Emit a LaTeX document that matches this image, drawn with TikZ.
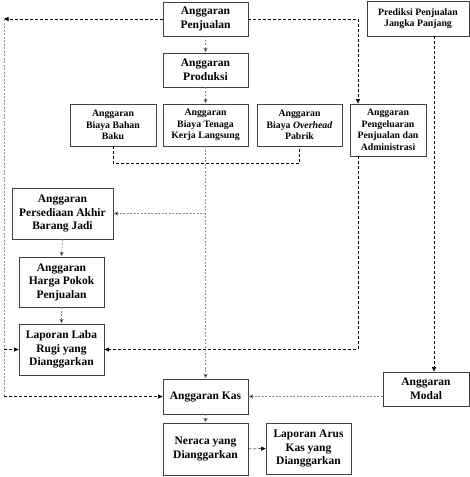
\documentclass[tikz,border=0pt]{standalone}
\usepackage{fontspec}
\setmainfont{Liberation Serif}
\usetikzlibrary{arrows.meta,calc}

\newcommand{\teksbesar}{\fontsize{11.5}{13.5}\selectfont\bfseries}
\newcommand{\tekskecil}{\fontsize{9.8}{11.5}\selectfont\bfseries}

\begin{document}
\begin{tikzpicture}[x=1pt,y=-1pt,
    kotak/.style={draw=black!75,line width=0.8pt,inner sep=0pt,align=center,font=\teksbesar},
    kotakkecil/.style={kotak,font=\tekskecil},
    garis/.style={line width=0.5pt,dash pattern=on 3pt off 2pt},
    garisabu/.style={line width=0.7pt,draw=black!45,dash pattern=on 2pt off 1.5pt},
    panah/.style={-{Triangle[length=4.5pt,width=4pt,fill=black]}}]

    \useasboundingbox (0,0) rectangle (470,477);

    % kotak-kotak anggaran
    \node[kotak,minimum width=85,minimum height=34] (pjl) at (205.5,19) {Anggaran\\Penjualan};

    \node[kotak,minimum width=85,minimum height=34] (prd) at (205.5,70) {Anggaran\\Produksi};

    \node[kotakkecil,minimum width=86,minimum height=42] (bhn) at (113,125) {Anggaran\\Biaya Bahan\\Baku};

    \node[kotakkecil,minimum width=85,minimum height=42] (tng) at (205.5,125) {Anggaran\\Biaya Tenaga\\Kerja Langsung};

    \node[kotakkecil,minimum width=85,minimum height=42] (ovh) at (299.5,125) {Anggaran\\Biaya \textit{Overhead}\\Pabrik};

    \node[kotakkecil,minimum width=76,minimum height=52] (pgl) at (388,130) {Anggaran\\Pengeluaran\\Penjualan dan\\Administrasi};

    \node[kotakkecil,minimum width=102,minimum height=35] (prdk) at (418,18.5) {Prediksi Penjualan\\Jangka Panjang};

    \node[kotak,minimum width=101,minimum height=51] (psd) at (62.5,213.5) {Anggaran\\Persediaan Akhir\\Barang Jadi};

    \node[kotak,minimum width=85,minimum height=50] (hpp) at (61.5,282) {Anggaran\\Harga Pokok\\Penjualan};

    \node[kotak,minimum width=85,minimum height=51] (lr) at (61.5,349.5) {Laporan Laba\\Rugi yang\\Dianggarkan};

    \node[kotak,minimum width=85,minimum height=35] (kas) at (205.5,396.5) {Anggaran Kas};

    \node[kotak,minimum width=86,minimum height=34] (mdl) at (426,389) {Anggaran\\Modal};

    \node[kotak,minimum width=85,minimum height=52] (nrc) at (205.5,449) {Neraca yang\\Dianggarkan};

    \node[kotak,minimum width=85,minimum height=51] (aks) at (308.5,448.5) {Laporan Arus\\Kas yang\\Dianggarkan};

    % titik bantu
    \coordinate (kiri) at (4,19);
    \coordinate (kanan) at (358,19);
    \coordinate (modalx) at (434,0);

    % alur
    \draw[garis,panah] (pjl.west) -- (kiri);
    \draw[garisabu] (kiri) -- (kiri |- kas.west);
    \draw[garis,panah] (kiri |- kas.west) -- (kas.west);
    \draw[garis,panah] (kiri |- lr.west) -- (lr.west);

    \draw[garis,panah] (pjl.east) -- (kanan) -- (kanan |- pgl.north);

    \draw[garisabu,panah] (pjl.south) -- (prd.north);
    \draw[garisabu,panah] (prd.south) -- (tng.north);

    \draw[garis] (bhn.south) -- ++(0,17) -| (ovh.south);

    \draw[garisabu,panah] (tng.south) -- (kas.north);
    \draw[garisabu,panah] (tng.south |- psd.east) -- (psd.east);

    \draw[garisabu,panah] (psd.south) -- (hpp.north);
    \draw[garisabu,panah] (hpp.south) -- (lr.north);

    \draw[garis,panah] (kanan |- pgl.south) |- (lr.east);

    \draw[garis,panah] (modalx |- prdk.south) -- (modalx |- mdl.north);
    \draw[garisabu,panah] (kas.east -| mdl.west) -- (kas.east);

    \draw[garisabu,panah] (kas.south) -- (nrc.north);
    \draw[garis,panah] (nrc.east) -- (aks.west);

\end{tikzpicture}
\end{document}
